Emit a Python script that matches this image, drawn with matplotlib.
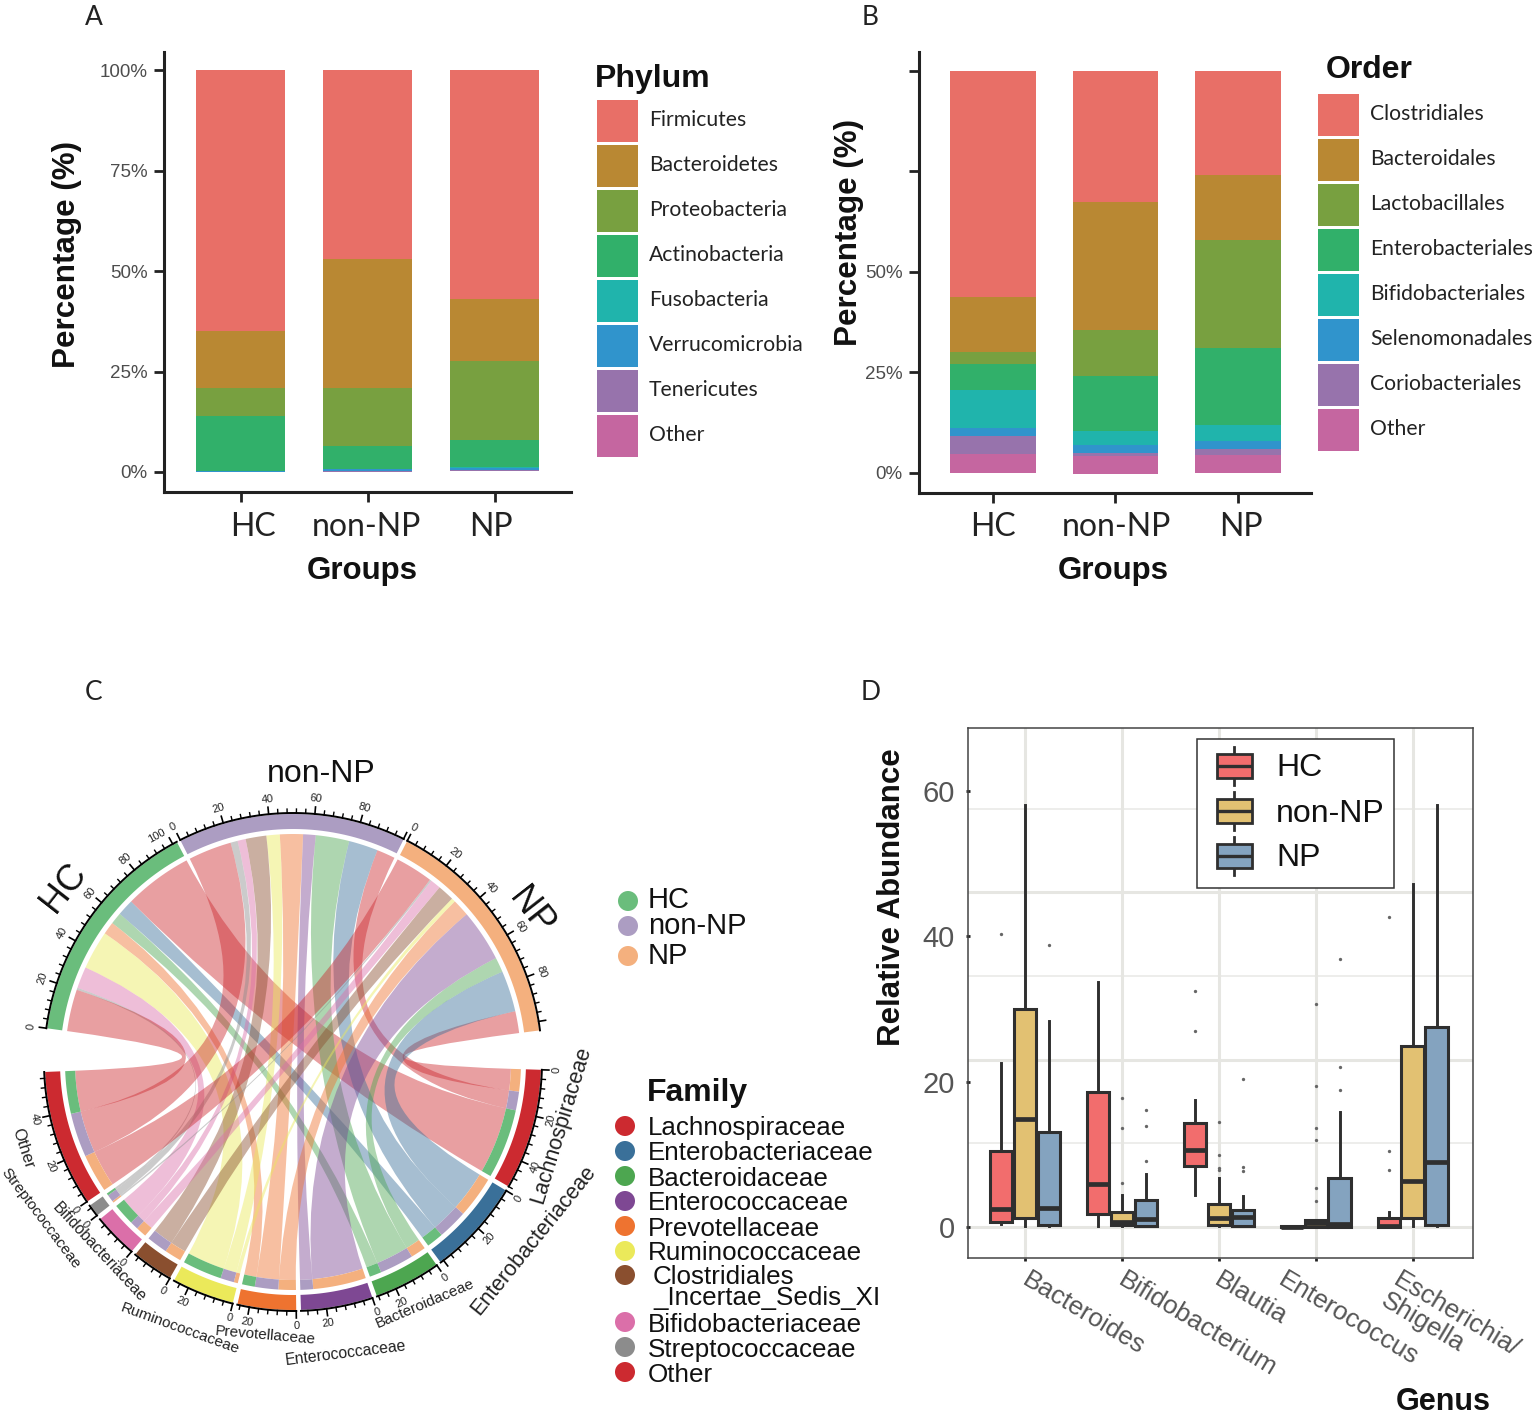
import numpy as np
import matplotlib
matplotlib.use('Agg')
import matplotlib.pyplot as plt
from matplotlib.path import Path
from matplotlib.patches import PathPatch, Rectangle, Circle

plt.rcParams['font.family'] = ['Liberation Sans', 'DejaVu Sans']

W, H = 1535, 1414
DARK = '#222222'
GREY = '#4d4d4d'

# panel A
groups = ['HC', 'non-NP', 'NP']
phylum_names = ['Firmicutes', 'Bacteroidetes', 'Proteobacteria', 'Actinobacteria',
                'Fusobacteria', 'Verrucomicrobia', 'Tenericutes', 'Other']
firmicutes = [65.0, 47.0, 57.0]
bacteroidetes = [14.0, 32.0, 15.5]
proteobacteria = [7.0, 14.5, 19.5]
actinobacteria = [13.8, 5.7, 6.8]
fusobacteria = [0.05, 0.1, 0.1]
verrucomicrobia = [0.05, 0.4, 0.6]
tenericutes = [0.05, 0.2, 0.2]
phylum_other = [0.05, 0.1, 0.1]
phylum_values = [firmicutes, bacteroidetes, proteobacteria, actinobacteria,
                 fusobacteria, verrucomicrobia, tenericutes, phylum_other]

# panel B
order_names = ['Clostridiales', 'Bacteroidales', 'Lactobacillales', 'Enterobacteriales',
               'Bifidobacteriales', 'Selenomonadales', 'Coriobacteriales', 'Other']
clostridiales = [56.2, 32.6, 26.0]
bacteroidales = [13.7, 31.8, 16.0]
lactobacillales = [3.0, 11.5, 27.0]
enterobacteriales = [6.5, 13.6, 19.1]
bifidobacteriales = [9.4, 3.6, 3.9]
selenomonadales = [1.9, 2.0, 2.1]
coriobacteriales = [4.6, 0.8, 1.5]
order_other = [4.7, 4.3, 4.5]
order_values = [clostridiales, bacteroidales, lactobacillales, enterobacteriales,
                bifidobacteriales, selenomonadales, coriobacteriales, order_other]

stack_colors = ['#e86f67', '#b98833', '#78a040', '#31b06a',
                '#20b4ac', '#3094cc', '#9773ac', '#c566a0']

# panel C, rows are the family order
family_names = ['Lachnospiraceae', 'Enterobacteriaceae', 'Bacteroidaceae', 'Enterococcaceae',
                'Prevotellaceae', 'Ruminococcaceae', 'Clostridiales_Incertae_Sedis_XI',
                'Bifidobacteriaceae', 'Streptococcaceae', 'Other']
hc_flow = [32.7, 7.9, 5.6, 0.0, 6.0, 18.5, 0.0, 10.3, 1.0, 20.0]
non_np_flow = [8.8, 14.0, 16.0, 6.0, 11.0, 6.4, 9.9, 3.9, 3.4, 20.7]
np_flow = [10.5, 19.6, 7.1, 24.9, 8.2, 1.9, 7.9, 5.0, 0.8, 18.0]
family_colors = ['#cc2a30', '#3a7099', '#4da650', '#7e4893', '#ee7330',
                 '#ebe95a', '#8a4f2f', '#db6fa9', '#8c8c8c', '#cc2a30']
group_colors = ['#6abd7c', '#ac9dc2', '#f4b07e']
group_label_max = [100, 80, 80]
family_label_max = [40, 20, 20, 20, 20, 20, 0, 0, 0, 40]

# panel D: low whisker, q1, median, q3, high whisker, outliers
genus_names = ['Bacteroides', 'Bifidobacterium', 'Blautia', 'Enterococcus', 'Escherichia/\nShigella']
bacteroides_box = [(0.4, 0.7, 2.5, 10.5, 22.6, [40.3]),
                   (0.2, 1.3, 14.9, 30.0, 58.0, []),
                   (0.2, 0.25, 2.6, 13.0, 28.3, [38.7])]
bifido_box = [(0.1, 1.8, 5.9, 18.5, 33.7, []),
              (0.1, 0.25, 0.7, 2.0, 4.4, [17.8, 13.6, 6.1]),
              (0.1, 0.2, 1.1, 3.7, 7.3, [16.1, 13.9, 9.1])]
blautia_box = [(4.4, 8.4, 10.6, 14.3, 17.4, [32.4, 27.0]),
               (0.1, 0.25, 1.2, 3.2, 6.7, [14.5, 9.9, 8.1, 7.9]),
               (0.1, 0.15, 1.35, 2.4, 4.3, [20.4, 8.3, 7.7])]
enterococcus_box = [(0.0, 0.0, 0.05, 0.2, 0.2, []),
                    (0.0, 0.0, 0.5, 0.9, 0.9, [30.6, 19.4, 13.6, 11.9, 5.4, 3.6]),
                    (0.05, 0.05, 0.4, 6.8, 15.8, [36.9, 22.0, 18.9])]
escherichia_box = [(0.0, 0.0, 0.1, 1.2, 2.0, [42.6, 10.5, 7.8]),
                   (0.1, 1.2, 6.3, 24.9, 47.2, []),
                   (0.1, 0.25, 8.9, 27.5, 58.0, [])]
genus_boxes = [bacteroides_box, bifido_box, blautia_box, enterococcus_box, escherichia_box]
box_colors = ['#f26d6d', '#e2c172', '#84a3bf']
grid_major = [0, 23, 46]
grid_minor = [11.5, 34.5, 57.4]

SOFT = ['Lato', 'DejaVu Sans']


def px_axes(left, top, right, bottom):
    return fig.add_axes([left / W, 1 - bottom / H, (right - left) / W, (bottom - top) / H])


def stacked_panel(box, values, xlim, ylim, width, ticks, ticklabels):
    ax = px_axes(*box)
    pos = np.arange(3)
    base = np.full(3, 100.0)
    for vals, col in zip(values, stack_colors):
        vals = np.array(vals)
        base = base - vals
        ax.bar(pos, vals, width, bottom=base, color=col, linewidth=0)
    ax.set_xlim(*xlim)
    ax.set_ylim(*ylim)
    ax.set_xticks(pos)
    ax.set_xticklabels([])
    ax.set_yticks(ticks)
    ax.set_yticklabels(ticklabels, fontsize=13.5, color=GREY)
    ax.tick_params(length=7, width=2, color=DARK, pad=4.7)
    for s in ['top', 'right']:
        ax.spines[s].set_visible(False)
    for s in ['left', 'bottom']:
        ax.spines[s].set_linewidth(2.2)
        ax.spines[s].set_color(DARK)
    return ax


fig = plt.figure(figsize=(W / 100, H / 100), dpi=100, facecolor='white')

stacked_panel((164, 52, 571, 492), phylum_values, (0.398 - 1, 3.6 - 1), (-4.98, 104.5), 0.7,
              [0, 25, 50, 75, 100], ['0%', '25%', '50%', '75%', '100%'])
stacked_panel((919, 52, 1311, 493), order_values, (-0.604, 2.596), (-4.98, 104.7), 0.7,
              [0, 25, 50, 75, 100], ['0%', '25%', '50%', '', ''])

# panel D
axd = px_axes(968, 728, 1473, 1258)
for g in grid_major:
    axd.axhline(g, color='#e6e6e2', lw=2.2, zorder=0)
for g in grid_minor:
    axd.axhline(g, color='#e8e8e6', lw=1.1, zorder=0)
for i, boxes in enumerate(genus_boxes):
    axd.axvline(i, color='#e6e6e2', lw=2.2, zorder=0)
    for j, (lo, q1, med, q3, hi, out) in enumerate(boxes):
        stats = [dict(whislo=lo, q1=q1, med=med, q3=q3, whishi=hi, fliers=out)]
        axd.bxp(stats, positions=[i + (j - 1) * 0.247], widths=0.235, patch_artist=True,
                showcaps=False, manage_ticks=False,
                boxprops=dict(facecolor=box_colors[j], edgecolor='#2f2f2f', linewidth=2.2),
                whiskerprops=dict(color='#2f2f2f', linewidth=2.1),
                medianprops=dict(color='#2f2f2f', linewidth=3.4, solid_capstyle='butt'),
                flierprops=dict(marker='o', markersize=2.4, markerfacecolor='#666666',
                                markeredgecolor='none'))
axd.set_xlim(-0.588, 4.62)
axd.set_ylim(-4.26, 68.6)
axd.set_xticks(range(5))
axd.set_xticklabels([])
axd.set_yticks([0, 20, 40, 60])
axd.set_yticklabels(['0', '20', '40', '60'], fontsize=21, color='#555555')
axd.tick_params(length=2, width=2, color=DARK)
axd.tick_params(axis='y', direction='inout', length=3, pad=8)
for s in axd.spines.values():
    s.set_color('#444444')
    s.set_linewidth(1.1)

# overlay in picture pixels for legends, letters and the chord diagram
ov = fig.add_axes([0, 0, 1, 1], facecolor='none')
ov.set_xlim(0, W)
ov.set_ylim(H, 0)
ov.axis('off')


def label(x, y, s, size, **kw):
    kw.setdefault('va', 'center')
    kw.setdefault('ha', 'center')
    # glyphs sit a little high when centred
    if kw.get('rotation', 0) == 0:
        y = y + 2.5
    elif kw.get('rotation') == 90:
        x = x + 2
    ov.text(x, y, s, fontsize=size, **kw)


for x, y, s in [(94, 15, 'A'), (870, 15, 'B'), (94, 690, 'C'), (871, 690, 'D')]:
    label(x, y, s, 19, family=SOFT, color='#222222')

# bar panel texts
for x, s in zip([253, 366, 491], groups):
    label(x, 525, s, 23, color='#222222', family=SOFT)
for x, s in zip([993, 1116, 1241], groups):
    label(x, 525, s, 23, color='#222222', family=SOFT)
label(362, 568, 'Groups', 22.5, fontweight='bold', color='#111111')
label(1113, 568, 'Groups', 22.5, fontweight='bold', color='#111111')
label(65, 254, 'Percentage (%)', 22.6, fontweight='bold', rotation=90, color='#111111')
label(847, 232, 'Percentage (%)', 22.6, fontweight='bold', rotation=90, color='#111111')


def stack_legend(title, tx, ty, names, sx, sy):
    label(tx, ty, title, 23, fontweight='bold', ha='left', color='#111111')
    for k, name in enumerate(names):
        ov.add_patch(Rectangle((sx, sy + 45.05 * k), 41, 41.5, color=stack_colors[k], lw=0))
        label(sx + 52, sy + 17.5 + 45.05 * k, name, 15.2, ha='left', color='#222222', family=SOFT)


stack_legend('Phylum', 595, 77, phylum_names, 597, 100)
stack_legend('Order', 1326, 67, order_names, 1318, 94)

# chord diagram
CX, CY = 293, 1062
R_OUT, R_IN = 248, 233
R_GROUP, R_FAMILY = 228, 218
TOP_START, TOP_END = 172.2, 7.3
BOT_START, BOT_END = 358.2, 182.3
TOP_GAP, BOT_GAP = 0.9, 1.1

flows = np.array([hc_flow, non_np_flow, np_flow])
top_scale = (TOP_START - TOP_END - 2 * TOP_GAP) / flows.sum()
bot_scale = (BOT_START - BOT_END - 9 * BOT_GAP) / flows.sum()


def polar(r, deg):
    a = np.radians(deg)
    return CX + r * np.cos(a), CY - r * np.sin(a)


def arc_pts(r, a0, a1, n=40):
    return [polar(r, a) for a in np.linspace(a0, a1, n)]


def ring(a0, a1, col):
    pts = arc_pts(R_OUT, a0, a1) + arc_pts(R_IN, a1, a0)
    ov.fill([p[0] for p in pts], [p[1] for p in pts], color=col, lw=0, zorder=3)


def axis_ticks(a0, scale, total, flip, label_max):
    pts = arc_pts(R_OUT + 1, a0, a0 - total * scale)
    ov.plot([p[0] for p in pts], [p[1] for p in pts], color='black', lw=1.4, zorder=4)
    for u in np.arange(0, total + 0.01, 4):
        major = int(u) % 20 == 0
        ang = a0 - u * scale
        p0, p1 = polar(R_OUT + 1, ang), polar(R_OUT + (8 if major else 5), ang)
        ov.plot([p0[0], p1[0]], [p0[1], p1[1]], color='black', lw=1.2 if major else 1.0, zorder=4)
        if major and u <= label_max:
            rot = ang + 90 if flip else ang - 90
            # the 100 label sits next to the following 0, keep them apart
            text_ang = ang + 2.2 if u == 100 else ang
            tx, ty = polar(R_OUT + 16, text_ang)
            ov.text(tx, ty, str(int(u)), fontsize=8, rotation=rot % 360, ha='center', va='center',
                    rotation_mode='anchor', color='#222222', zorder=4)


# angle spans on both sides of the circle
family_order = list(range(len(family_names)))
a = TOP_START
spans = {}
for g in range(3):
    total = flows[g].sum()
    ring(a, a - total * top_scale, group_colors[g])
    axis_ticks(a, top_scale, total, False, group_label_max[g])
    c = a
    for f in reversed(family_order):
        spans[(g, f)] = [c, c - flows[g, f] * top_scale]
        c -= flows[g, f] * top_scale
    a = c - TOP_GAP

fam_spans = {}
a = BOT_START
for f in family_order:
    total = flows[:, f].sum()
    ring(a, a - total * bot_scale, family_colors[f])
    axis_ticks(a, bot_scale, total, True, family_label_max[f])
    c = a
    for g in [2, 1, 0]:
        width = flows[g, f] * bot_scale
        fam_spans[(g, f)] = [c, c - width]
        if width > 0:
            pts = arc_pts(R_GROUP, c, c - width, 12) + arc_pts(R_FAMILY, c - width, c, 12)
            ov.fill([p[0] for p in pts], [p[1] for p in pts], color=group_colors[g], lw=0, zorder=2)
        c -= width
    a = c - BOT_GAP

for g in range(3):
    for f in family_order:
        if flows[g, f] <= 0:
            continue
        a0, a1 = spans[(g, f)]
        b0, b1 = fam_spans[(g, f)]
        top = arc_pts(R_GROUP, a0, a1, 20)
        bot = arc_pts(R_FAMILY, b0, b1, 20)
        verts = top + [(CX, CY), bot[0]] + bot[1:] + [(CX, CY), top[0]]
        codes = [Path.MOVETO] + [Path.LINETO] * 19 + [Path.CURVE3, Path.CURVE3] \
            + [Path.LINETO] * 19 + [Path.CURVE3, Path.CURVE3]
        ov.add_patch(PathPatch(Path(verts, codes), facecolor=family_colors[f], alpha=0.45,
                               edgecolor='none', zorder=1))

label(321, 771, 'non-NP', 23, color='#111111')
label(64, 888, 'HC', 26, rotation=52, color='#111111')
label(531, 912, 'NP', 26, rotation=-52, color='#111111')
sector_labels = [(561, 1125, 'Lachnospiraceae', 73, 15.5), (533, 1240, 'Enterobacteriaceae', 51, 15.5),
                 (425, 1304, 'Bacteroidaceae', 23, 11), (346, 1353, 'Enterococcaceae', 7, 11.3),
                 (265, 1335, 'Prevotellaceae', -5, 11), (180, 1329, 'Ruminococcaceae', -20, 11),
                 (99, 1252, 'Bifidobacteriaceae', -47, 11.3), (41, 1218, 'Streptococcaceae', -53, 11),
                 (23, 1148, 'Other', -72, 12)]
for x, y, s, rot, size in sector_labels:
    label(x, y, s, size, rotation=rot, color='#222222')

# chord legends
for y, s, col in zip([901, 926, 956], groups, group_colors):
    ov.add_patch(Circle((628, y), 10, color=col, lw=0))
    label(648, y - 3, s, 21, ha='left', color='#111111')
label(697, 1091, 'Family', 23, fontweight='bold', color='#111111')
fam_rows = [1126, 1151, 1176, 1201, 1226, 1251, 1275, 1322, 1347, 1372]
for y, name, col in zip(fam_rows, family_names, family_colors):
    ov.add_patch(Circle((625, y), 10, color=col, lw=0))
    if name.startswith('Clostridiales'):
        label(653, y, 'Clostridiales', 18.7, ha='left', color='#111111')
        label(653, y + 21, '_Incertae_Sedis_XI', 18.7, ha='left', color='#111111')
    else:
        label(648, y, name, 18.7, ha='left', color='#111111')

# panel D texts and hand placed legend
label(890, 897, 'Relative Abundance', 22.5, fontweight='bold', rotation=90, color='#111111')
label(1443, 1400, 'Genus', 22, fontweight='bold', color='#111111')
gx = [1031, 1127, 1223, 1287, 1402]
for x, s in zip(gx, genus_names):
    ov.text(x, 1268, s, fontsize=18.8, rotation=-31, rotation_mode='anchor', ha='left', va='top',
            color='#555555', linespacing=1.0)

ov.add_patch(Rectangle((1197, 739), 197, 149, facecolor='white', edgecolor='#333333', lw=1.1, zorder=6))
for y, s, col in zip([766, 811, 856], groups, box_colors):
    ov.plot([1234, 1234], [y - 19, y + 19], color='#2f2f2f', lw=2, zorder=7)
    ov.add_patch(Rectangle((1217, y - 12), 35, 24, facecolor=col, edgecolor='#2f2f2f', lw=2, zorder=8))
    ov.plot([1217, 1252], [y, y], color='#2f2f2f', lw=2.4, zorder=9, solid_capstyle='butt')
    label(1276, y, s, 23, ha='left', color='#111111', zorder=9)

fig.savefig('out.png', dpi=100)
